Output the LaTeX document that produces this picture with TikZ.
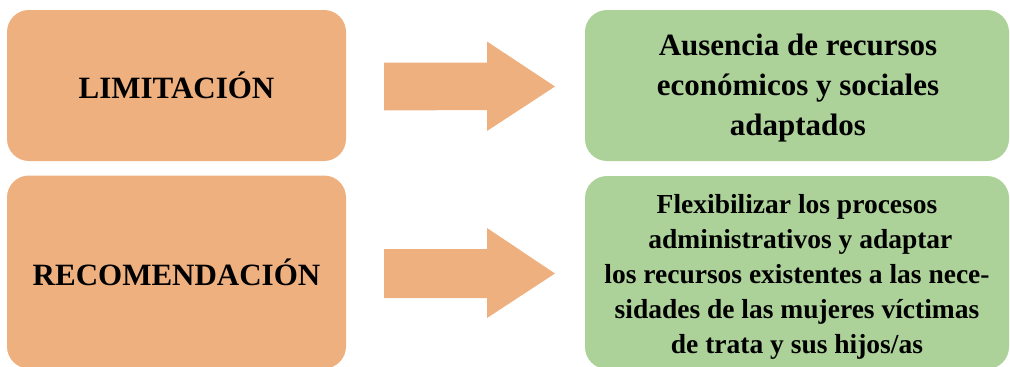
\documentclass[tikz,border=0pt]{standalone}
\usepackage{fontspec}
\setmainfont{Liberation Serif}
\usetikzlibrary{calc}
\definecolor{orangefill}{HTML}{EFB07F}
\definecolor{greenfill}{HTML}{ADD299}
\begin{document}
\begin{tikzpicture}[x=1pt,y=-1pt,
  box/.style={rounded corners=22pt, inner sep=0pt, align=center, font=\bfseries},
  leftbox/.style={box, fill=orangefill, minimum width=339pt},
  rightbox/.style={box, fill=greenfill, minimum width=424pt},
  boxtext/.style={inner sep=0pt, align=center},
  blockarrow/.style={fill=orangefill, draw=none}]
\useasboundingbox (0,0) rectangle (1010,367);
% left boxes
\node[leftbox, minimum height=151pt, font=\bfseries\fontsize{31}{40}\selectfont] (lim) at (176.5,85.5) {LIMITACIÓN};
\node[leftbox, minimum height=193pt, font=\bfseries\fontsize{31}{40}\selectfont] (rec) at (176.5,272) {RECOMENDACIÓN};
% right boxes
\node[rightbox, minimum height=151pt] (aus) at (797,85.5) {};
\node[boxtext, font=\bfseries\fontsize{31}{40}\selectfont] (austext) at ($(aus.center)+(1,3)$)
  {Ausencia de recursos\\económicos y sociales\\adaptados};
\node[rightbox, minimum height=193pt] (flex) at (797,272.5) {};
\node[boxtext, font=\bfseries\fontsize{27.5}{35}\selectfont] (flextext) at ($(flex.center)+(0,4.5)$)
  {Flexibilizar los procesos\\\hspace*{0.25em}administrativos y adaptar\\los recursos existentes a las nece-\\sidades de las mujeres víctimas\\de trata y sus hijos/as};
% block arrows
\coordinate (a1) at (384,86.5);
\coordinate (a2) at (384,273.5);
\fill[blockarrow] ($(a1)+(0,-24)$) -- ++(103,0) -- ++(0,-21) -- (555,86.5) -- (487,131) -- (487,110) -- ($(a1)+(0,24)$) -- cycle;
\fill[blockarrow] ($(a2)+(0,-24.5)$) -- ++(103,0) -- ++(0,-21) -- (555,273.5) -- (487,318) -- (487,298) -- ($(a2)+(0,24.5)$) -- cycle;
\end{tikzpicture}
\end{document}
